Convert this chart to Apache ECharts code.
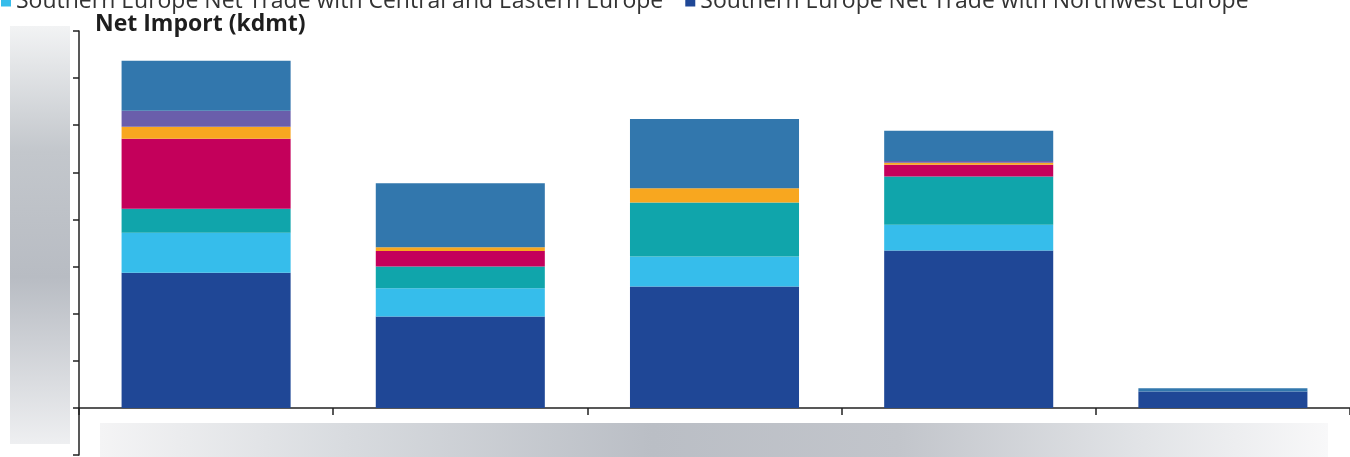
<!DOCTYPE html>
<html>
<head>
<meta charset="utf-8">
<script src="https://cdn.jsdelivr.net/npm/echarts/dist/echarts.min.js"></script>
<style>
  html, body { margin: 0; padding: 0; background: #ffffff; }
  #chart { width: 1350px; height: 457px; }
</style>
</head>
<body>
<div id="chart"></div>
<script>
// Periods along the category axis (labels are not printed on this chart)
const categories = ['2019', '2020', '2021', '2022', '2023'];

// Net import by trade route, kdmt, stacked bottom to top
const nameNorthwest = 'Southern Europe Net Trade with Northwest Europe';
const nameCentralEast = 'Southern Europe Net Trade with Central and Eastern Europe';
const nameMiddleEast = 'Southern Europe Net Import from Middle East';
const nameAfrica = 'Southern Europe Net Import from Africa';
const nameAmericas = 'Southern Europe Net Import from Americas';
const nameAsia = 'Southern Europe Net Import from Asia';
const nameRussia = 'Southern Europe Net Import from Russia';

const northwest   = [1433, 970, 1288, 1670, 173];
const centralEast = [425, 300, 318, 273, 0];
const middleEast  = [255, 230, 573, 513, 0];
const africa      = [743, 165, 0, 125, 0];
const americas    = [128, 40, 153, 20, 0];
const asia        = [170, 0, 0, 20, 0];
const russia      = [530, 680, 733, 320, 35];

// Value axis range and step (kdmt)
const yMin = -500;
const yMax = 4000;
const yStep = 500;

const chart = echarts.init(document.getElementById('chart'));

function barSeries(name, data, color) {
  return {
    name: name,
    type: 'bar',
    stack: 'total',
    barWidth: '66.5%',
    data: data,
    itemStyle: { color: color },
    emphasis: { disabled: true }
  };
}

chart.setOption({
  animation: false,
  backgroundColor: '#ffffff',
  title: {
    text: 'Net Import (kdmt)',
    left: 90,
    top: 8,
    textStyle: {
      fontFamily: 'Open Sans',
      fontSize: 23,
      fontWeight: 'bold',
      color: '#1e1e1e'
    }
  },
  legend: {
    data: [nameCentralEast, nameNorthwest],
    left: -4,
    top: -15,
    icon: 'rect',
    itemWidth: 10,
    itemHeight: 10,
    itemGap: 22,
    itemStyle: { borderWidth: 0 },
    textStyle: {
      fontFamily: 'Open Sans',
      fontSize: 23,
      color: '#333333'
    }
  },
  grid: {
    left: 79,
    right: -11,
    top: 31,
    bottom: 2,
    containLabel: false
  },
  xAxis: {
    type: 'category',
    data: categories,
    axisLine: { show: true, onZero: true, lineStyle: { color: '#222222', width: 1.5 } },
    axisTick: { show: true, length: 7, lineStyle: { color: '#222222', width: 1.5 } },
    axisLabel: { show: false },
    splitLine: { show: false }
  },
  yAxis: {
    type: 'value',
    min: yMin,
    max: yMax,
    interval: yStep,
    axisLine: { show: true, lineStyle: { color: '#222222', width: 1.5 } },
    axisTick: { show: true, length: 6, lineStyle: { color: '#222222', width: 1.5 } },
    axisLabel: { show: false },
    splitLine: { show: false }
  },
  graphic: [
    {
      // shaded strip beside the value axis
      type: 'rect',
      left: 10,
      top: 26,
      shape: { width: 60, height: 418 },
      silent: true,
      z: -1,
      style: {
        fill: new echarts.graphic.LinearGradient(0, 0, 0, 1, [
          { offset: 0, color: '#f2f3f4' },
          { offset: 0.3, color: '#c3c7cc' },
          { offset: 0.6, color: '#b8bcc3' },
          { offset: 1, color: '#eeeff1' }
        ])
      }
    },
    {
      // shaded strip under the category axis
      type: 'rect',
      left: 100,
      top: 423,
      shape: { width: 1228, height: 40 },
      silent: true,
      z: -1,
      style: {
        fill: new echarts.graphic.LinearGradient(0, 0, 1, 0, [
          { offset: 0, color: '#f4f4f5' },
          { offset: 0.2, color: '#d8dbdf' },
          { offset: 0.45, color: '#babec5' },
          { offset: 0.65, color: '#c2c5cb' },
          { offset: 0.85, color: '#e2e4e7' },
          { offset: 1, color: '#f8f8f9' }
        ])
      }
    }
  ],
  series: [
    barSeries(nameNorthwest, northwest, '#1f4796'),
    barSeries(nameCentralEast, centralEast, '#36bdeb'),
    barSeries(nameMiddleEast, middleEast, '#10a5ab'),
    barSeries(nameAfrica, africa, '#c4005b'),
    barSeries(nameAmericas, americas, '#f8a71f'),
    barSeries(nameAsia, asia, '#6a5eab'),
    barSeries(nameRussia, russia, '#3277ad')
  ]
});
</script>
</body>
</html>
